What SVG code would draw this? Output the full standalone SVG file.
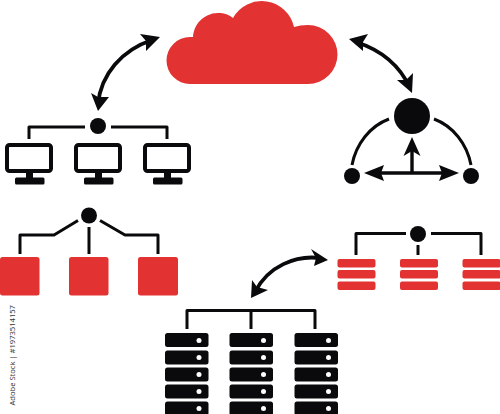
<svg xmlns="http://www.w3.org/2000/svg" width="500" height="414" viewBox="0 0 500 414">
<style>
.ln{fill:none;stroke:#0a0a0c;stroke-width:3;stroke-linejoin:round}
.arc{fill:none;stroke:#0a0a0c;stroke-width:3.8}
.k{fill:#0a0a0c}
.r{fill:#e23232}
.d{fill:#fff}
.lbl{font-family:"Open Sans","Liberation Sans",sans-serif;font-size:7.600px;fill:#333}
</style>
<defs>
<g id="monitor">
<rect x="7" y="145" width="44" height="26" rx="2.500" fill="#fff" stroke="#0a0a0c" stroke-width="4"/>
<rect x="26" y="172" width="7" height="7" class="k"/>
<rect x="15" y="177.500" width="29.500" height="7" rx="1.500" class="k"/>
</g>
<g id="redbars">
<rect x="0" y="259" width="38" height="8.500" rx="2" class="r"/>
<rect x="0" y="270" width="38" height="8.500" rx="2" class="r"/>
<rect x="0" y="281.500" width="38" height="8.500" rx="2" class="r"/>
</g>
<g id="rack">
<rect x="165" y="333" width="43.500" height="14" rx="2.500" class="k"/><circle cx="199" cy="340.500" r="2.500" class="d"/>
<rect x="165" y="350.500" width="43.500" height="14" rx="2.500" class="k"/><circle cx="199" cy="357.500" r="2.500" class="d"/>
<rect x="165" y="367.500" width="43.500" height="14" rx="2.500" class="k"/><circle cx="199" cy="374.500" r="2.500" class="d"/>
<rect x="165" y="384.500" width="43.500" height="14" rx="2.500" class="k"/><circle cx="199" cy="391.500" r="2.500" class="d"/>
<rect x="165" y="401.500" width="43.500" height="14" rx="2.500" class="k"/><circle cx="199" cy="408.500" r="2.500" class="d"/>
</g>
</defs>
<rect width="500" height="414" fill="#fff"/>

<g id="connectors">
<path class="arc" d="M98 104C101 74 122 50 152 40"/>
<polygon class="k" points="160,37 140,34 146,41 146,51"/>
<polygon class="k" points="98,111 91,93 98,97 109,97"/>
<path class="arc" d="M356 42C381 50 400 66 410 88"/>
<polygon class="k" points="349,39 368,34 363,42 363,51"/>
<polygon class="k" points="412,93 397,80 406,80 413,73"/>
<path class="arc" d="M320 258C296 255 268 266 255 292"/>
<polygon class="k" points="328,260 311,249 316,258 314,266"/>
<polygon class="k" points="251,298 252,280 257,287 268,290"/>
</g>

<g id="cloud">
<path class="r" d="M190 84A23.500 23.500 0 0 1 190 37H193A25 25 0 0 1 233 18A33 33 0 0 1 294 27Q300 25 308 25A29.500 29.500 0 0 1 308 84Z"/>
</g>

<g id="network-computers">
<circle cx="98" cy="126" r="8" class="k"/>
<path class="ln" d="M85 127H29V139M111 127H167V139"/>
<use href="#monitor"/>
<use href="#monitor" x="69"/>
<use href="#monitor" x="138"/>
</g>

<g id="hub-triangle">
<circle cx="412" cy="116" r="18" class="k"/>
<circle cx="352" cy="176" r="8" class="k"/>
<circle cx="471" cy="176" r="8" class="k"/>
<path class="ln" d="M352 165C356 144 370 126 389 119M434 119C453 126 467 144 471 165"/>
<path class="ln" d="M370 173H453M412 173V145" style="stroke-width:3.400"/>
<polygon class="k" points="364,173 384,165 381,173 384,181"/>
<polygon class="k" points="459,173 439,165 442,173 439,181"/>
<polygon class="k" points="412,137 403.500,156 412,151 420.500,156"/>
</g>

<g id="red-squares">
<circle cx="89" cy="215.500" r="8" class="k"/>
<path class="ln" d="M78 220.500L54 235H20V254M89 227V254M100 220.500L125 235H158V254"/>
<rect x="0" y="257" width="39.500" height="38.500" rx="2.500" class="r"/>
<rect x="69" y="257" width="39.500" height="38.500" rx="2.500" class="r"/>
<rect x="138" y="257" width="40" height="38.500" rx="2.500" class="r"/>
</g>

<g id="red-lists">
<circle cx="418" cy="234" r="8" class="k"/>
<path class="ln" d="M406 233.500H356V255M431 233.500H481V255M418 245V255"/>
<use href="#redbars" x="337.500"/>
<use href="#redbars" x="400"/>
<use href="#redbars" x="462.500"/>
</g>

<g id="servers">
<path class="ln" d="M187 329V310.500H315V329M251 310.500V329"/>
<use href="#rack"/>
<use href="#rack" x="64.500"/>
<use href="#rack" x="129.500"/>
</g>

<text class="lbl" transform="translate(14.500 405.500) rotate(-90)">Adobe Stock | #1973514157</text>
</svg>
